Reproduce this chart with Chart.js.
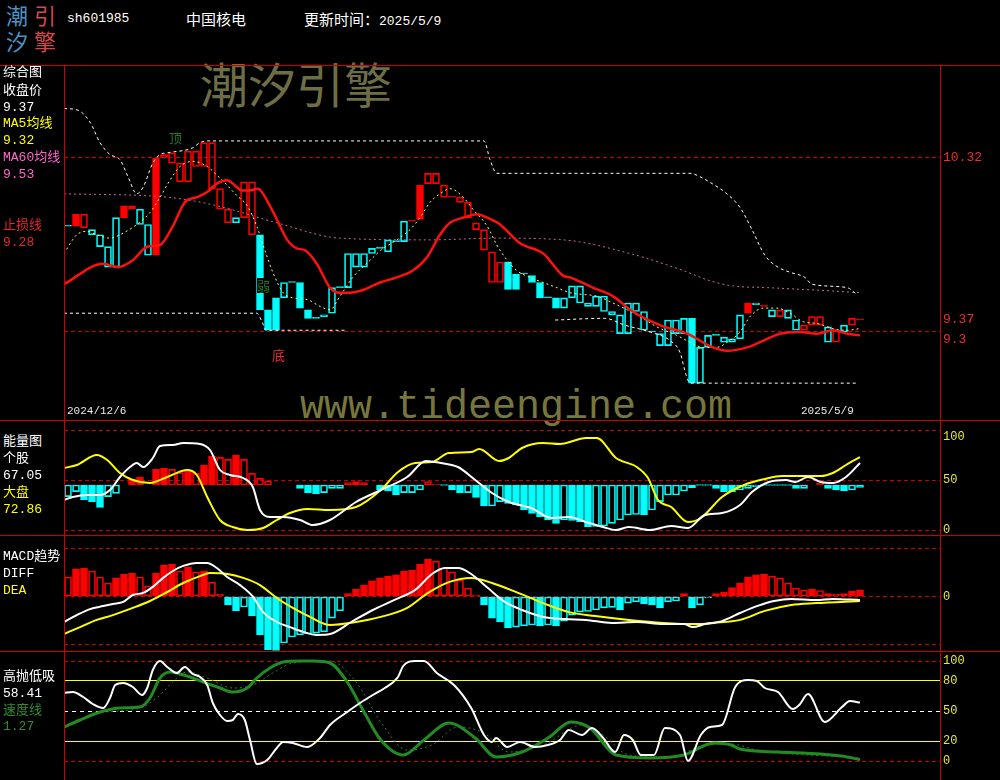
<!DOCTYPE html>
<html lang="zh-CN"><head><meta charset="utf-8"><title>中国核电</title>
<script src="https://cdn.jsdelivr.net/npm/chart.js@4.4.1/dist/chart.umd.min.js"></script>
<style>
*{box-sizing:border-box}
html,body{margin:0;padding:0;background:#000;}
#stage{position:relative;width:1000px;height:780px;overflow:hidden;background:#000;font-family:"Liberation Mono","Noto Sans CJK SC",monospace;}
.t{position:absolute;white-space:nowrap;font-size:13px;line-height:16px;z-index:6;}
.cjk{font-family:"Noto Sans CJK SC",sans-serif;}
.fr{position:absolute;background:#c80000;z-index:5;}
canvas{position:absolute;z-index:3;}
.wm{position:absolute;white-space:nowrap;z-index:1;line-height:1;}
</style></head><body><div id="stage">
<!-- logo -->
<div class="t cjk" style="left:6px;top:2px;font-size:22px;line-height:24px;color:#4b93c4;">潮</div>
<div class="t cjk" style="left:34px;top:2px;font-size:22px;line-height:24px;color:#d04a4a;">引</div>
<div class="t cjk" style="left:6px;top:28px;font-size:22px;line-height:24px;color:#4b93c4;">汐</div>
<div class="t cjk" style="left:34px;top:28px;font-size:22px;line-height:24px;color:#d04a4a;">擎</div>
<div class="t" style="left:67px;top:11px;color:#fff;">sh601985</div>
<div class="t cjk" style="left:186px;top:9px;font-size:15px;line-height:20px;color:#fff;">中国核电</div>
<div class="t" style="left:304px;top:9px;color:#fff;line-height:20px;"><span class="cjk" style="font-size:15px;">更新时间：</span>2025/5/9</div>

<div class="wm cjk" style="left:200px;top:58px;font-size:48px;color:#6e6e46;">潮汐引擎</div>
<div class="wm" style="left:300px;top:388px;font-size:40px;color:#77773d;font-family:'Liberation Mono',monospace;">www.tideengine.com</div>

<!-- left labels -->
<div class="t" style="left:3px;top:65px;color:#fff;">综合图</div>
<div class="t" style="left:3px;top:83px;color:#fff;">收盘价</div>
<div class="t" style="left:3px;top:100px;color:#fff;">9.37</div>
<div class="t" style="left:3px;top:116px;color:#ffff00;">MA5均线</div>
<div class="t" style="left:3px;top:133px;color:#ffff00;">9.32</div>
<div class="t" style="left:3px;top:150px;color:#ff66cc;">MA60均线</div>
<div class="t" style="left:3px;top:167px;color:#ff66cc;">9.53</div>
<div class="t" style="left:3px;top:218px;color:#e82828;">止损线</div>
<div class="t" style="left:3px;top:235px;color:#e82828;">9.28</div>

<div class="t" style="left:3px;top:434px;color:#fff;">能量图</div>
<div class="t" style="left:3px;top:451px;color:#fff;">个股</div>
<div class="t" style="left:3px;top:468px;color:#fff;">67.05</div>
<div class="t" style="left:3px;top:485px;color:#ffff00;">大盘</div>
<div class="t" style="left:3px;top:502px;color:#ffff00;">72.86</div>

<div class="t" style="left:3px;top:549px;color:#fff;">MACD趋势</div>
<div class="t" style="left:3px;top:566px;color:#fff;">DIFF</div>
<div class="t" style="left:3px;top:583px;color:#ffff00;">DEA</div>

<div class="t" style="left:3px;top:669px;color:#fff;">高抛低吸</div>
<div class="t" style="left:3px;top:686px;color:#fff;">58.41</div>
<div class="t" style="left:3px;top:703px;color:#2f8f2f;">速度线</div>
<div class="t" style="left:3px;top:719px;color:#2f8f2f;">1.27</div>

<!-- chart annotations -->
<div class="t cjk" style="left:169px;top:130px;color:#237a23;">顶</div>
<div class="t cjk" style="left:257px;top:278px;color:#237a23;background:#000;line-height:15px;">弱</div>
<div class="t cjk" style="left:272px;top:347px;color:#e83030;">底</div>
<div class="t" style="left:67px;top:404px;font-size:11px;line-height:14px;color:#e8e8e8;" id="d0"></div>
<div class="t" style="left:801px;top:404px;font-size:11px;line-height:14px;color:#e8e8e8;" id="d1"></div>

<canvas id="c1" width="936" height="355" style="left:64px;top:65px;"></canvas>
<canvas id="c2" width="936" height="114" style="left:64px;top:421px;"></canvas>
<canvas id="c3" width="936" height="116" style="left:64px;top:535px;"></canvas>
<canvas id="c4" width="936" height="129" style="left:64px;top:651px;"></canvas>

<!-- frame -->
<div class="fr" style="left:0;top:65px;width:1000px;height:1px;"></div>
<div class="fr" style="left:0;top:420px;width:1000px;height:1px;"></div>
<div class="fr" style="left:0;top:535px;width:1000px;height:1px;"></div>
<div class="fr" style="left:0;top:651px;width:1000px;height:1px;"></div>
<div class="fr" style="left:64px;top:65px;width:1px;height:715px;"></div>
<div class="fr" style="left:940px;top:65px;width:1px;height:715px;"></div>
</div>
<script>
// ===== DATA =====
const dateLabels = ['2024/12/6', '2025/5/9'];
// candle open / close (100 trading days)
const openP = [9.92,9.99,9.91,9.87,9.80,9.68,9.68,10.04,10.04,9.93,
 9.75,10.32,10.32,10.29,10.18,10.18,10.27,10.27,10.14,10.02,
 9.94,9.94,9.97,9.87,9.87,9.43,9.50,9.50,9.59,9.59,
 9.43,9.38,9.39,9.41,9.56,9.56,9.68,9.68,9.76,9.79,
 9.77,9.83,9.83,9.95,10.16,10.17,10.17,10.09,10.09,10.06,
 9.97,9.90,9.78,9.59,9.59,9.71,9.64,9.64,9.63,9.59,
 9.50,9.50,9.44,9.50,9.47,9.45,9.45,9.42,9.40,9.29,
 9.29,9.42,9.31,9.30,9.22,9.22,9.29,9.29,9.38,9.00,
 9.21,9.28,9.24,9.24,9.26,9.47,9.46,9.45,9.39,9.39,
 9.38,9.31,9.31,9.34,9.34,9.24,9.24,9.30,9.34,9.37];
const closeP = [9.92,9.92,9.99,9.90,9.87,9.80,9.97,9.97,10.02,10.02,
 9.93,9.75,10.34,10.35,10.29,10.36,10.36,10.41,10.41,10.14,
 10.02,9.97,10.18,10.18,9.43,9.31,9.31,9.59,9.59,9.44,
 9.38,9.38,9.40,9.56,9.56,9.76,9.76,9.76,9.79,9.79,
 9.84,9.83,9.95,9.95,9.96,10.23,10.23,10.16,10.09,10.09,
 10.06,9.94,9.90,9.77,9.71,9.55,9.55,9.64,9.59,9.50,
 9.50,9.44,9.50,9.57,9.57,9.47,9.51,9.51,9.42,9.40,
 9.47,9.47,9.42,9.30,9.29,9.37,9.37,9.38,9.00,9.21,
 9.28,9.28,9.27,9.26,9.40,9.41,9.47,9.45,9.43,9.43,
 9.43,9.37,9.34,9.39,9.39,9.33,9.31,9.34,9.38,9.37];
// trend state of each day (1 = strong / red, -1 = weak / cyan)
const trendState = [-1,1,1,-1,-1,-1,-1,1,1,-1,
 -1,1,1,1,1,1,1,1,1,1,
 1,-1,1,1,-1,-1,-1,-1,-1,-1,
 -1,-1,-1,-1,-1,-1,-1,-1,-1,-1,
 -1,-1,-1,1,1,1,1,1,1,1,
 1,1,1,1,1,-1,-1,-1,-1,-1,
 -1,-1,-1,-1,-1,-1,-1,-1,-1,-1,
 -1,-1,-1,-1,-1,-1,-1,-1,-1,-1,
 -1,-1,-1,-1,-1,1,-1,1,-1,1,
 -1,-1,1,1,1,-1,1,-1,1,1];
// price lines: [day index, value]
const stopLine = [[-0.5,9.58],[4.4,9.70],[6.25,9.68],[8.1,9.72],[9.9,9.80],[11.5,9.81],[13.1,9.92],[14.6,10.06],[16.1,10.09],[17.4,10.12],[18.6,10.17],[19.9,10.19],[20.6,10.17],[21.75,10.13],[22.75,10.13],[23.75,10.14],[25,10.06],[26.1,9.96],[27.4,9.84],[28.6,9.79],[29.6,9.78],[31.1,9.70],[32.75,9.56],[34,9.53],[35.25,9.53],[37.1,9.55],[39,9.59],[41.1,9.62],[43.1,9.66],[44.9,9.74],[46.5,9.87],[47.75,9.94],[49.4,9.97],[51.1,9.99],[52.4,9.97],[54,9.93],[56.5,9.82],[59.4,9.76],[61.9,9.63],[62.75,9.62],[65.6,9.56],[68.1,9.51],[70.6,9.42],[74,9.34],[77.4,9.29],[80.6,9.21],[82.4,9.19],[84.9,9.21],[86.5,9.24],[89,9.29],[91.5,9.30],[93.6,9.29],[95.6,9.31],[97.4,9.29],[99,9.28]];
const ma60 = [[-0.5,10.11],[12.4,10.09],[18.6,10.04],[26.1,9.94],[34,9.85],[45.25,9.84],[53.6,9.85],[61.9,9.84],[70.25,9.76],[76.9,9.66],[80.25,9.60],[83.1,9.57],[87.4,9.56],[95.6,9.54],[99,9.53]];
const ma5 = [[-0.5,9.76],[1.1,9.87],[2.4,9.89],[3.6,9.87],[5.25,9.85],[6.9,9.88],[8.6,9.93],[10.25,10.00],[11.5,10.09],[12.75,10.19],[14,10.27],[15.6,10.30],[17.4,10.27],[18.6,10.22],[19.9,10.16],[21.1,10.10],[22.4,10.04],[23.6,9.92],[24.6,9.78],[25.6,9.65],[26.9,9.53],[28.1,9.50],[29.9,9.49],[31.5,9.45],[32.75,9.43],[34,9.51],[35.6,9.62],[37.75,9.72],[39.4,9.79],[41.1,9.84],[42.75,9.90],[44,9.97],[45.25,10.06],[46.5,10.11],[47.75,10.14],[49.4,10.09],[50.6,10.02],[52.4,9.92],[53.6,9.81],[54.9,9.72],[56.1,9.66],[57.75,9.62],[59.4,9.59],[61.1,9.56],[62.75,9.53],[64.4,9.52],[66.1,9.51],[68.1,9.47],[69.9,9.43],[71.5,9.39],[73.6,9.33],[76.1,9.28],[77.75,9.24],[79.4,9.21],[81.1,9.21],[82.4,9.24],[84,9.30],[85.25,9.39],[86.9,9.44],[88.6,9.44],[90.25,9.41],[91.9,9.36],[93.6,9.35],[95.6,9.32],[97.4,9.31],[99,9.32]];
const upperBand = [[-0.5,10.61],[1.25,10.60],[2.75,10.53],[4,10.41],[5.25,10.34],[6.5,10.31],[7.5,10.21],[8.6,10.11],[9.4,10.15],[10.6,10.29],[11.5,10.34],[12.4,10.35],[15.6,10.38],[16.5,10.41],[17.4,10.42],[52,10.42],[52.75,10.31],[53.6,10.23],[77.75,10.23],[79,10.21],[80.5,10.17],[82.1,10.12],[84,10.03],[85.5,9.90],[87.1,9.75],[88.75,9.68],[90.25,9.65],[92.1,9.62],[93,9.58],[97.4,9.56],[98.6,9.52]];
const lowerBand = [[-0.5,9.41],[23.6,9.41],[24.25,9.36],[24.75,9.31],[34.6,9.31],[35,null],[60.9,9.37],[67.1,9.38],[69.6,9.34],[72.75,9.30],[75.25,9.25],[76.5,9.18],[77.25,9.05],[77.75,9.00],[98.6,9.00]];
const priceTicks = [10.32, 9.37, 9.30];
const priceTickText = ['10.32', '9.37', '9.3'];

// energy panel
const energyBars = [33.3,38.3,30,28.3,22.7,33.3,36.7,null,50.7,52.7,
 null,60.7,61.7,60.7,57.3,60,56.7,65,74,72.7,
 70.7,75,70.7,56.7,51.7,49,null,null,null,41.7,
 37.3,36,37.3,41.7,41.7,47.3,48.3,47.3,null,40,
 39,35,37.3,37.3,40,48.3,46,44.5,40,37.3,
 37.3,32.7,24,24,28.3,26.7,25,20,16.7,13.3,
 10,6.7,10,9.5,8.3,3.3,3.5,4,6.7,10,
 15,15.5,15,20,28.3,35,35,39,42.3,44.5,
 44.5,41.7,38.3,38,40,41.7,43.3,44.5,44.5,44.5,
 44.5,41.7,41.7,null,46.7,41.7,40,39.3,40,42.7];
const energyBase = 45;
const energyStock = [[-0.5,30],[0.6,33],[2.4,35],[4,35],[5.25,40],[6.5,53],[7.75,63],[8.6,67],[9.4,63],[10.6,72],[11.5,84],[13.1,85],[14.4,87],[16.5,86],[17.75,80],[19,60],[20.25,55],[21.9,52],[23.1,43],[24,20],[25.25,13],[26.9,13],[29,10],[30.6,5],[32.75,10],[36,28],[39.1,40],[42.4,53],[44.75,69],[46.6,67],[48.75,63],[50.9,50],[53,37],[55.1,28],[57.9,22],[60.5,12],[62.6,13],[64.75,8],[66.9,3],[68.5,0],[70.1,3],[72.75,0],[75.4,4],[77.5,2],[79.6,15],[81.75,17],[84,25],[85.5,38],[87.6,48],[89.75,50],[90.9,48],[92.5,53],[94.1,48],[95.6,47],[97.25,53],[99,67.05]];
const energyMarket = [[-0.5,62],[1.1,65],[3.6,75],[4.9,70],[6.5,57],[8.1,50],[10.25,47],[12.4,53],[14.9,60],[16.1,55],[17.4,33],[19,10],[20.6,3],[22.4,0],[24.4,2],[26.1,10],[27.75,17],[29.9,21],[32.75,20],[36,23],[39.1,40],[41.25,58],[43.4,67],[45.5,68],[47.6,77],[50.4,78],[51.4,81],[53.9,69],[55.1,72],[56.75,82],[59.4,87],[61.5,86],[64.75,92],[66.1,92],[68.5,72],[71.1,63],[72.5,52],[73.75,30],[75.4,23],[77.5,8],[79.1,12],[81.75,33],[84.5,45],[87.1,51],[89.25,54],[91.4,54],[94.1,54],[95.6,57],[97.25,65],[99,72.86]];
const energyTicks = [100, 50, 0];

// MACD panel
const macdBars = [0.065,0.092,0.095,0.085,0.065,0.045,0.062,0.075,0.078,0.065,
 0.035,0.078,0.105,0.108,0.085,0.098,0.082,0.085,0.048,0.008,
 -0.028,-0.048,-0.035,-0.065,-0.128,-0.178,-0.18,-0.155,-0.135,-0.128,
 -0.125,-0.122,-0.118,-0.072,-0.048,0.01,0.025,0.038,0.052,0.062,
 0.068,0.072,0.085,0.088,0.108,0.125,0.118,0.095,0.082,0.055,
 0.028,0.005,-0.028,-0.072,-0.085,-0.105,-0.102,-0.098,-0.095,-0.098,
 -0.095,-0.098,-0.082,-0.062,-0.052,-0.05,-0.045,-0.038,-0.036,-0.045,
 -0.022,-0.018,-0.025,-0.028,-0.038,-0.018,-0.015,0.01,-0.038,-0.028,
 -0.005,0.01,0.015,0.03,0.045,0.065,0.072,0.075,0.068,0.062,
 0.045,0.028,0.022,0.025,0.02,0.01,0.008,0.01,0.018,0.022];
const diffLine = [[-0.5,-0.085],[1.1,-0.062],[2.75,-0.042],[4.4,-0.032],[5.6,-0.025],[6.9,-0.018],[8.1,0.005],[9.4,0.012],[10.6,0.032],[11.9,0.062],[13.1,0.085],[14.4,0.102],[16.1,0.112],[17.4,0.112],[18.6,0.095],[19.9,0.065],[21.5,0.038],[23.1,0],[24.4,-0.052],[26.1,-0.085],[27.75,-0.102],[29.4,-0.118],[31.1,-0.128],[32.75,-0.125],[35.4,-0.085],[38.1,-0.045],[40.75,-0.012],[43.4,0.022],[45.5,0.075],[47.1,0.095],[48.75,0.095],[50.4,0.075],[52.5,0.028],[54.6,-0.018],[56.75,-0.045],[59.4,-0.068],[62.1,-0.075],[64.75,-0.078],[68,-0.088],[71.1,-0.085],[74.4,-0.092],[77,-0.092],[78.1,-0.102],[79.6,-0.092],[81.75,-0.082],[84,-0.055],[86.1,-0.032],[88.25,-0.015],[90.4,-0.008],[93.5,-0.012],[95.6,-0.008],[99,-0.012]];
const deaLine = [[-0.5,-0.125],[1.5,-0.102],[3.6,-0.078],[5.6,-0.062],[8.1,-0.038],[10.25,-0.015],[12.4,0.015],[14.4,0.045],[16.5,0.068],[17.75,0.078],[19.9,0.075],[21.9,0.062],[24,0.038],[26.1,-0.005],[28.1,-0.038],[30.25,-0.068],[32.75,-0.095],[36,-0.085],[39.1,-0.068],[42.4,-0.038],[45,0.012],[47.6,0.048],[50.4,0.062],[53,0.045],[56.25,0.012],[59.4,-0.022],[62.6,-0.052],[65.9,-0.065],[70.1,-0.078],[74.4,-0.088],[78.6,-0.092],[80.75,-0.088],[84,-0.078],[87.1,-0.048],[90.4,-0.028],[93.5,-0.022],[99,-0.015]];
const macdTicks = [0.16, 0, -0.16];

// high-sell / low-buy panel
const hlWhite = [[-0.5,68],[0.6,69],[1.9,64],[3.1,57],[4.4,53],[5.25,63],[5.9,76],[6.9,78],[8.1,74],[9.25,66],[9.9,73],[10.6,91],[11.5,100],[12.4,94],[13.6,88],[14.6,94],[15.6,87],[16.5,84],[17.4,76],[18.1,58],[19,46],[19.9,40],[20.6,41],[21.25,47],[22.1,41],[22.75,21],[23.6,-3],[24.9,1],[26.1,13],[26.9,19],[28.1,18],[29.9,14],[31.5,23],[32.75,36],[34.9,49],[36.5,58],[38.1,66],[39.6,73],[41.25,84],[41.9,95],[43.4,100],[44.5,100],[46.1,88],[48.25,76],[50.4,53],[52,26],[53,19],[53.5,23],[54.9,14],[56.5,19],[58.4,14],[60,16],[61.5,21],[62.6,31],[64.25,26],[65.5,33],[66.9,23],[68.4,9],[69.5,26],[70.6,21],[71.6,6],[73.25,6],[74.6,33],[76.5,26],[77.5,0],[79.1,26],[80.25,34],[81.75,36],[83.4,74],[85,81],[86.1,80],[87.1,73],[88.75,69],[90.6,52],[91.4,56],[92.5,67],[94.6,39],[96.75,54],[97.75,60],[99,58.41]];
const hlSpeed = [[-0.5,34],[1.5,41],[4,49],[6.5,53],[9,54],[10.25,63],[11.5,83],[12.75,89],[14,87],[15.25,84],[16.9,79],[19,73],[20.6,69],[22.4,73],[23.6,83],[25.25,93],[26.9,99],[29,100],[30.6,100],[32.75,98],[34.9,79],[37,49],[39.1,21],[41.9,6],[44.5,21],[47.6,38],[50.9,23],[53.5,4],[56.75,9],[60,23],[62.9,39],[65.25,33],[68.5,6],[72.75,3],[77,6],[80.75,18],[82.9,16],[84,12],[88.75,9],[94.1,7],[96.75,5],[99,1.27]];
const hlSignal = [[-0.5,34],[4,48],[9,53],[11.1,63],[13.1,79],[14.9,89],[17.4,83],[20.6,73],[23.1,76],[25.6,88],[28.1,98],[32.75,100],[36,79],[39.1,39],[42.4,11],[45.5,16],[48.75,34],[52,28],[55.1,9],[59.4,16],[64.25,36],[66.9,26],[70.1,6],[75.4,4],[79.6,16],[82.9,17],[86.1,11],[99,3]];
const hlTicks = [100, 80, 50, 20, 0];

// ===== RENDER =====
document.getElementById('d0').textContent = dateLabels[0];
document.getElementById('d1').textContent = dateLabels[1];

const RED = '#ff0000', CYAN = '#00ffff', CLEAR = 'rgba(0,0,0,0)';
const FRAME_DASH = '#c80000';
const RED_DASH = [FRAME_DASH, [4, 3]];
const pts = arr => arr.map(([x, y]) => ({x, y}));

function yAxis(min, max, ticks, labelFn, gridFn, labelColor, size) {
  return {
    position: 'right', min, max,
    afterFit(s) { s.width = 60; s.paddingTop = 0; s.paddingBottom = 0; },
    afterBuildTicks(s) { s.ticks = ticks.map(v => ({value: v})); },
    ticks: { autoSkip: false, padding: 3, color: labelColor,
      font: {family: 'Liberation Mono', size}, callback: (v) => labelFn(v) },
    grid: { drawTicks: false, lineWidth: 1,
      color: c => c.tick ? gridFn(c.tick.value)[0] : CLEAR },
    border: { display: false, dash: c => c.tick ? gridFn(c.tick.value)[1] : [] }
  };
}
function panel(id, datasets, y) {
  return new Chart(document.getElementById(id), {
    type: 'line',
    data: { datasets },
    options: {
      responsive: false, animation: false, events: [],
      layout: { padding: 0 },
      plugins: { legend: {display: false}, tooltip: {enabled: false} },
      scales: { x: {type: 'linear', min: -0.5, max: 109, display: false, offset: false}, y }
    }
  });
}
function lineDs(data, color, width, dash, order, tension) {
  return { type: 'line', data: pts(data), borderColor: color, borderWidth: width,
    borderDash: dash || [], pointRadius: 0, fill: false, order,
    tension: tension === undefined ? 0.35 : tension, cubicInterpolationMode: 'monotone', spanGaps: false };
}
// bar style: filled when magnitude grows vs previous bar
function histStyle(vals, base, i) {
  const v = vals[i];
  const p = (i > 0 && vals[i - 1] != null) ? vals[i - 1] : base;
  return { up: v > base, filled: i > 0 && Math.abs(v - base) > Math.abs(p - base) };
}
function histDs(vals, base, order) {
  const data = [];
  vals.forEach((v, i) => { if (v != null) data.push({x: i, y: [base, v]}); });
  return { type: 'bar', data, order, grouped: false, barThickness: 7, minBarLength: 1,
    borderWidth: 1, borderSkipped: false,
    borderColor: c => histStyle(vals, base, c.raw.x).up ? RED : CYAN,
    backgroundColor: c => { const s = histStyle(vals, base, c.raw.x); return s.filled ? (s.up ? RED : CYAN) : CLEAR; } };
}

// ---- panel 1: candles ----
const candleData = closeP.map((c, i) => ({x: i, y: [openP[i], c]}));
const candleDs = { type: 'bar', data: candleData, order: 10, grouped: false, barThickness: 7,
  minBarLength: 1, borderWidth: 1, borderSkipped: false,
  borderColor: c => trendState[c.dataIndex] > 0 ? RED : CYAN,
  backgroundColor: c => { const i = c.dataIndex; const col = trendState[i] > 0 ? RED : CYAN;
    return closeP[i] > openP[i] ? CLEAR : col; } };
panel('c1', [
  candleDs,
  lineDs(ma60, '#c8689c', 1, [2, 3], 6),
  lineDs(upperBand, '#ffffff', 1, [3, 3], 5, 0),
  lineDs(lowerBand, '#ffffff', 1, [3, 3], 5, 0),
  lineDs(ma5, '#ffff66', 1, [2, 3], 4),
  lineDs(stopLine, '#ff1010', 2.5, [], 1)
], yAxis(8.784, 10.865, priceTicks,
  v => { const k = priceTicks.findIndex(t => Math.abs(t - v) < 1e-6); const s = priceTickText[k];
         return Math.abs(v - 9.30) < 1e-6 ? ['', s] : s; },
  v => Math.abs(v - 9.37) < 1e-6 ? [CLEAR, []] : RED_DASH, '#e83030', 13));

// ---- panel 2: energy ----
panel('c2', [
  histDs(energyBars, energyBase, 10),
  lineDs(energyMarket, '#ffff00', 2, [], 2),
  lineDs(energyStock, '#ffffff', 2, [], 1)
], yAxis(-5, 109, energyTicks,
  v => v === 100 ? ['', '100'] : String(v),
  () => RED_DASH, '#e6e64a', 12));

// ---- panel 3: MACD ----
panel('c3', [
  histDs(macdBars, 0, 10),
  lineDs(deaLine, '#ffff00', 2, [], 2),
  lineDs(diffLine, '#ffffff', 2, [], 1)
], yAxis(-0.18167, 0.205, macdTicks,
  v => v === 0 ? '0' : '',
  () => RED_DASH, '#e6e64a', 12));

// ---- panel 4: high/low ----
const hlGrid = v => (v === 80 || v === 20) ? ['#ffff00', []] : (v === 50 ? ['#ffffff', [4, 4]] : RED_DASH);
panel('c4', [
  lineDs(hlSignal, '#2e7d2e', 1, [2, 3], 3),
  lineDs(hlSpeed, '#228b22', 3, [], 2),
  lineDs(hlWhite, '#ffffff', 2, [], 1, 0.2)
], yAxis(-19, 110, hlTicks, v => String(v), hlGrid, '#e6e64a', 12));
</script>
</body></html>
